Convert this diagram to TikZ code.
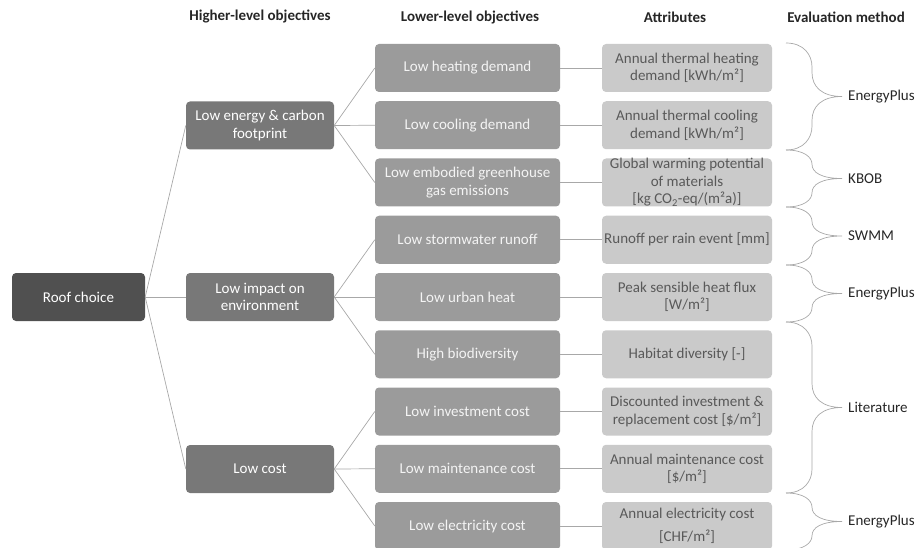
\documentclass[tikz,border=0pt]{standalone}
\usepackage{fontspec}
\setmainfont{Carlito}
\definecolor{rootgray}{HTML}{505050}
\definecolor{highgray}{HTML}{787878}
\definecolor{lowgray}{HTML}{9B9B9B}
\definecolor{attrgray}{HTML}{CACACA}
\definecolor{attrtext}{HTML}{595959}
\definecolor{lowtext}{HTML}{F4F4F4}
\definecolor{linkgray}{HTML}{A8A8A8}
\definecolor{headtext}{HTML}{262626}

\begin{document}
\begin{tikzpicture}[x=1pt,y=-1pt,
  every node/.style={font=\fontsize{15}{17.5}\selectfont, align=center, inner sep=0pt},
  box/.style={rounded corners=4pt, minimum height=48pt},
  rootbox/.style={box, fill=rootgray, text=white, minimum width=133pt},
  highbox/.style={box, fill=highgray, text=white, minimum width=148pt},
  lowbox/.style={box, fill=lowgray, text=lowtext, minimum width=185pt},
  attrbox/.style={box, fill=attrgray, text=attrtext, minimum width=170pt},
  head/.style={font=\fontsize{15}{17.5}\selectfont\bfseries, text=headtext},
  link/.style={draw=linkgray, line width=0.7pt},
  bracket/.style={draw=linkgray, line width=0.7pt}]
\useasboundingbox (0,0) rectangle (921,548);

% column headers
\node[head] (hhigh) at (260,17) {Higher-level objectives};
\node[head] (hlow) at (470,17) {Lower-level objectives};
\node[head] (hattr) at (675,17) {Attributes};
\node[head] (heval) at (846,17) {Evaluation method};

% objective hierarchy
\node[rootbox] (roof) at (78.5,297) {Roof choice};
\node[highbox] (energy) at (260,125.5) {Low energy \& carbon\\footprint};
\node[highbox] (impact) at (260,297) {Low impact on\\environment};
\node[highbox] (cost) at (260,469) {Low cost};

\foreach \name/\i/\txt in {heat/0/{Low heating demand}, cool/1/{Low cooling demand},
    embod/2/{Low embodied greenhouse\\gas emissions}, storm/3/{Low stormwater runoff},
    urban/4/{Low urban heat}, biodiv/5/{High biodiversity}, invest/6/{Low investment cost},
    maint/7/{Low maintenance cost}, elec/8/{Low electricity cost}}
  \node[lowbox] (low\name) at (467.5,{68+57.25*\i}) {\txt};

\foreach \name/\i/\txt in {heat/0/{Annual thermal heating\\demand [kWh/m²]},
    cool/1/{Annual thermal cooling\\demand [kWh/m²]},
    embod/2/{Global warming potential\\of materials\\{}[kg CO\textsubscript{2}-eq/(m²a)]},
    storm/3/{Runoff per rain event [mm]},
    urban/4/{Peak sensible heat flux\\{}[W/m²]},
    biodiv/5/{Habitat diversity [-]},
    invest/6/{Discounted investment \&\\replacement cost [\$/m²]},
    maint/7/{Annual maintenance cost\\{}[\$/m²]},
    elec/8/{Annual electricity cost\\[5pt][CHF/m²]}}
  \node[attrbox] (att\name) at (687,{68+57.25*\i}) {\txt};

% connectors
\foreach \high in {energy,impact,cost}
  \draw[link] (roof.east) -- (\high.west);
\foreach \name in {heat,cool,embod}
  \draw[link] (energy.east) -- (low\name.west);
\foreach \name in {storm,urban,biodiv}
  \draw[link] (impact.east) -- (low\name.west);
\foreach \name in {invest,maint,elec}
  \draw[link] (cost.east) -- (low\name.west);
\foreach \name in {heat,cool,embod,storm,urban,biodiv,invest,maint,elec}
  \draw[link] (low\name.east) -- (att\name.west);

% evaluation braces
\foreach \ya/\yb/\method [count=\k] in {43/150/EnergyPlus, 150/207/KBOB, 207/265/SWMM,
    265/322/EnergyPlus, 322/493/Literature, 493/550/EnergyPlus} {
  \pgfmathsetmacro\ym{(\ya+\yb)/2}
  \pgfmathsetmacro\r{min(24,(\yb-\ya)/4)}
  \draw[bracket] (786,\ya) .. controls (804,\ya) and (812,{\ya+0.5*\r}) .. (812,{\ya+\r})
    -- (812,{\ym-\r}) .. controls (812,{\ym-0.4*\r}) and (822,\ym) .. (842,\ym)
    .. controls (822,\ym) and (812,{\ym+0.4*\r}) .. (812,{\ym+\r})
    -- (812,{\yb-\r}) .. controls (812,{\yb-0.5*\r}) and (804,\yb) .. (786,\yb);
  \node[anchor=west, text=headtext] (eval\k) at (848,\ym) {\method};
}
\end{tikzpicture}
\end{document}
